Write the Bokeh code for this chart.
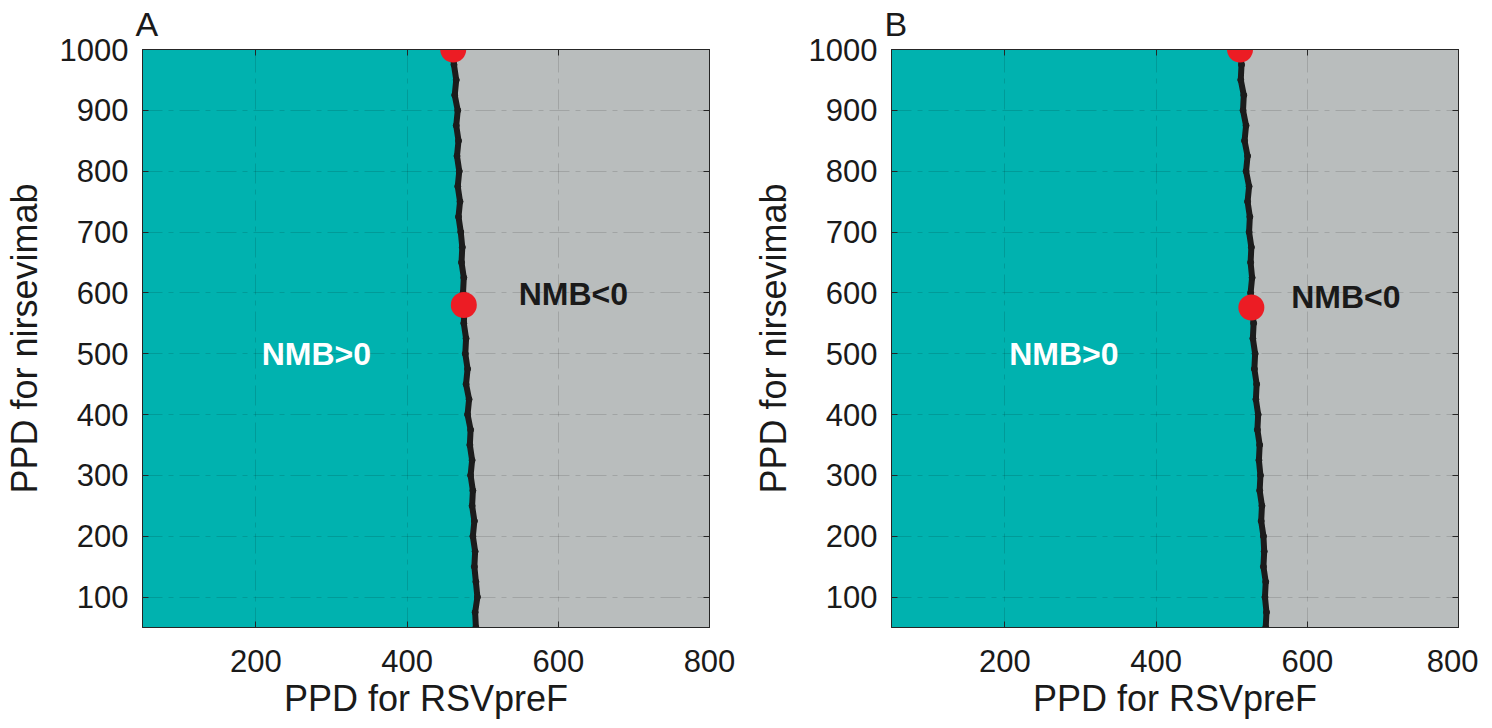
from bokeh.plotting import figure
from bokeh.layouts import row
from bokeh.models import Range1d, LinearAxis, FixedTicker, CustomJSTickFormatter
from bokeh.core.properties import value
from bokeh.embed import file_html
from bokeh.resources import INLINE

# ---- data ----
X_RANGE = [50, 800]
Y_RANGE = [50, 1000]
X_TICKS = [200, 400, 600, 800]
Y_TICKS = [100, 200, 300, 400, 500, 600, 700, 800, 900, 1000]

# threshold curve (PPD for nirsevimab on y, PPD for RSVpreF on x)
curve_y = [1000, 975, 950, 925, 900, 875, 850, 825, 800, 775, 750, 725, 700,
           675, 650, 625, 600, 575, 550, 525, 500, 475, 450, 425, 400, 375,
           350, 325, 300, 275, 250, 225, 200, 175, 150, 125, 100, 75, 50]
curve_x_A = [460, 462, 465, 463, 467, 465, 468, 466, 469, 467, 470, 468, 471,
             473, 472, 475, 474, 476, 475, 478, 477, 480, 478, 482, 480, 484,
             483, 486, 484, 487, 486, 489, 487, 490, 489, 491, 493, 490, 491]
curve_x_B = [511, 513, 512, 516, 515, 519, 517, 521, 519, 523, 521, 524, 523,
             526, 525, 527, 525, 527, 529, 528, 531, 530, 533, 532, 535, 534,
             537, 536, 538, 537, 540, 539, 542, 543, 542, 545, 544, 546, 545]

dots_x_A = [461, 475]
dots_y_A = [1000, 580]
dots_x_B = [511, 526]
dots_y_B = [1000, 576]

pos_label = "NMB>0"
neg_label = "NMB<0"
pos_xy_A = (280, 500)
neg_xy_A = (620, 598)
pos_xy_B = (278, 500)
neg_xy_B = (651, 594)

TEAL = "#00B2AF"
GREY = "#B9BDBD"
RED = "#EC1C24"
INK = "#262626"
FONT = "Liberation Sans"
FONT_V = value(FONT)


def make_panel(tag, cx, dx, dy, pos_xy, neg_xy, mb_left, mb_right):
    p = figure(frame_width=567, frame_height=578,
               x_range=Range1d(*X_RANGE), y_range=Range1d(*Y_RANGE),
               output_backend="svg", toolbar_location=None,
               min_border_left=mb_left, min_border_right=mb_right,
               min_border_top=49, min_border_bottom=80,
               background_fill_color=GREY, border_fill_color="white",
               outline_line_color=INK, outline_line_width=1)

    p.title.text = tag
    p.title.text_font = FONT
    p.title.text_font_size = "34px"
    p.title.text_font_style = "normal"
    p.title.text_color = "#1a1a1a"
    p.title.align = "left"
    p.title.offset = -7
    p.title.standoff = 0
    p.title.padding = dict(left=0, right=0, top=0, bottom=7)

    for ax in (p.xaxis[0], p.yaxis[0]):
        ax.major_label_text_font = FONT
        ax.major_label_text_font_size = "31px"
        ax.major_label_text_color = "#1a1a1a"
        ax.axis_label_text_font = FONT
        ax.axis_label_text_font_size = "36px"
        ax.axis_label_text_font_style = "normal"
        ax.axis_label_text_color = "#1a1a1a"
        ax.axis_line_color = INK
        ax.major_tick_line_color = INK
        ax.major_tick_in = 6
        ax.major_tick_out = 0
        ax.minor_tick_line_color = None
    p.xaxis[0].ticker = FixedTicker(ticks=X_TICKS)
    p.yaxis[0].ticker = FixedTicker(ticks=Y_TICKS)
    p.xaxis[0].axis_label = "PPD for RSVpreF"
    p.yaxis[0].axis_label = "PPD for nirsevimab"
    p.xaxis[0].major_label_standoff = 22
    p.yaxis[0].major_label_standoff = 14
    p.xaxis[0].axis_label_standoff = 3
    p.yaxis[0].axis_label_standoff = 12

    blank = CustomJSTickFormatter(code="return ''")
    top = LinearAxis(ticker=FixedTicker(ticks=X_TICKS), formatter=blank)
    right = LinearAxis(ticker=FixedTicker(ticks=Y_TICKS), formatter=blank)
    for ax in (top, right):
        ax.axis_line_color = INK
        ax.major_tick_line_color = INK
        ax.major_tick_in = 6
        ax.major_tick_out = 0
        ax.minor_tick_line_color = None
        ax.major_label_standoff = 0
        ax.major_label_text_font_size = "1px"
    p.add_layout(top, "above")
    p.add_layout(right, "right")

    p.xgrid.ticker = FixedTicker(ticks=X_TICKS)
    p.ygrid.ticker = FixedTicker(ticks=Y_TICKS)
    p.grid.grid_line_color = "black"
    p.grid.grid_line_alpha = 0.13
    p.grid.grid_line_dash = "20 6 5 6"
    p.grid.grid_line_width = 1

    p.harea(x1=X_RANGE[0] - 100, x2=cx, y=curve_y, fill_color=TEAL,
            level="image")
    p.line(cx, curve_y, line_color="#1c1c1c", line_width=6,
           line_join="round", line_cap="round")
    p.scatter(cx, curve_y, size=6, color="#1c1c1c")
    p.scatter(dx, dy, size=26, marker="circle", fill_color=RED,
              line_color=None)

    p.text([pos_xy[0]], [pos_xy[1]], text=[pos_label], text_color="white",
           text_font=FONT_V, text_font_size="32px", text_font_style="bold",
           text_align="center", text_baseline="middle")
    p.text([neg_xy[0]], [neg_xy[1]], text=[neg_label], text_color="#1a1a1a",
           text_font=FONT_V, text_font_size="32px", text_font_style="bold",
           text_align="center", text_baseline="middle")
    return p


pA = make_panel("A", curve_x_A, dots_x_A, dots_y_A, pos_xy_A, neg_xy_A, 140, 40)
pB = make_panel("B", curve_x_B, dots_x_B, dots_y_B, pos_xy_B, neg_xy_B, 137, 20)

layout = row(pA, pB)
open("out.html", "w").write(file_html(layout, INLINE))
